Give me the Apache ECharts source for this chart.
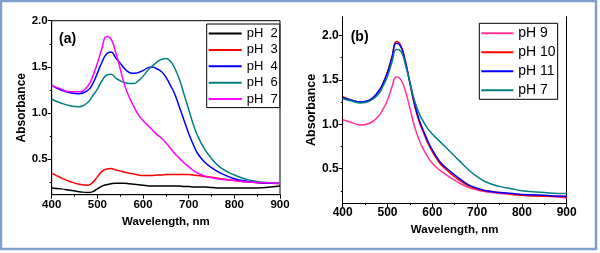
<!DOCTYPE html>
<html>
<head>
<meta charset="utf-8">
<script src="https://cdn.jsdelivr.net/npm/echarts@6/dist/echarts.min.js"></script>
<style>
  html, body { margin: 0; padding: 0; background: #fff; }
  #chart { width: 600px; height: 253px; }
</style>
</head>
<body>
<div id="chart"></div>
<script>
// panel (a) wavelengths, nm
const waveA = [400, 420, 440, 460, 480, 490, 500, 510, 520, 530, 540, 550, 560, 570, 580, 590, 600, 610, 620, 630, 640, 650, 660, 670, 680, 690, 700, 710, 720, 735, 750, 770, 800, 830, 850, 880, 900]
const ph2 = [0.19, 0.18, 0.165, 0.15, 0.14, 0.15, 0.18, 0.21, 0.225, 0.235, 0.24, 0.24, 0.24, 0.235, 0.23, 0.225, 0.22, 0.215, 0.21, 0.21, 0.21, 0.21, 0.21, 0.21, 0.21, 0.205, 0.205, 0.2, 0.2, 0.2, 0.195, 0.19, 0.19, 0.19, 0.19, 0.2, 0.21]
const ph3 = [0.35, 0.3, 0.26, 0.23, 0.22, 0.25, 0.31, 0.37, 0.395, 0.4, 0.385, 0.375, 0.36, 0.35, 0.34, 0.33, 0.325, 0.325, 0.325, 0.33, 0.33, 0.335, 0.335, 0.335, 0.335, 0.335, 0.335, 0.33, 0.325, 0.315, 0.305, 0.29, 0.27, 0.255, 0.245, 0.24, 0.235]
const ph4 = [1.3, 1.25, 1.22, 1.21, 1.25, 1.32, 1.43, 1.55, 1.64, 1.66, 1.6, 1.54, 1.48, 1.44, 1.43, 1.44, 1.46, 1.49, 1.5, 1.48, 1.45, 1.39, 1.3, 1.2, 1.06, 0.92, 0.78, 0.66, 0.56, 0.47, 0.41, 0.35, 0.29, 0.26, 0.25, 0.24, 0.24]
const ph6 = [1.15, 1.11, 1.08, 1.07, 1.12, 1.19, 1.26, 1.35, 1.41, 1.42, 1.38, 1.35, 1.33, 1.32, 1.32, 1.35, 1.4, 1.46, 1.51, 1.55, 1.58, 1.59, 1.56, 1.48, 1.36, 1.2, 1.04, 0.88, 0.75, 0.61, 0.51, 0.41, 0.33, 0.28, 0.26, 0.245, 0.24]
const ph7a = [1.3, 1.26, 1.23, 1.23, 1.3, 1.4, 1.54, 1.7, 1.83, 1.8, 1.66, 1.48, 1.3, 1.17, 1.07, 0.98, 0.92, 0.87, 0.82, 0.77, 0.73, 0.68, 0.62, 0.56, 0.51, 0.46, 0.42, 0.38, 0.35, 0.32, 0.3, 0.285, 0.27, 0.255, 0.25, 0.245, 0.24]

// panel (b) wavelengths, nm
const waveB = [400, 420, 440, 460, 480, 490, 500, 510, 520, 530, 540, 550, 560, 570, 580, 590, 600, 610, 620, 640, 660, 680, 700, 720, 750, 780, 800, 850, 880, 900]
const ph9 = [1.05, 1.02, 0.99, 1.01, 1.09, 1.17, 1.27, 1.42, 1.53, 1.5, 1.37, 1.18, 0.98, 0.83, 0.72, 0.63, 0.56, 0.51, 0.47, 0.4, 0.34, 0.29, 0.26, 0.24, 0.22, 0.21, 0.2, 0.19, 0.18, 0.17]
const ph10 = [1.31, 1.27, 1.25, 1.27, 1.37, 1.46, 1.59, 1.76, 1.93, 1.88, 1.7, 1.46, 1.22, 1.04, 0.91, 0.79, 0.69, 0.61, 0.54, 0.45, 0.37, 0.31, 0.27, 0.25, 0.23, 0.21, 0.2, 0.19, 0.19, 0.18]
const ph11 = [1.3, 1.27, 1.25, 1.27, 1.37, 1.46, 1.58, 1.75, 1.91, 1.87, 1.7, 1.47, 1.24, 1.06, 0.93, 0.81, 0.71, 0.63, 0.56, 0.47, 0.39, 0.32, 0.28, 0.25, 0.23, 0.22, 0.21, 0.2, 0.19, 0.19]
const ph7b = [1.29, 1.26, 1.24, 1.26, 1.34, 1.43, 1.54, 1.7, 1.84, 1.82, 1.67, 1.47, 1.27, 1.13, 1.03, 0.95, 0.89, 0.84, 0.79, 0.69, 0.59, 0.49, 0.41, 0.35, 0.3, 0.27, 0.25, 0.23, 0.22, 0.22]

const yTicks = [0.5, 1.0, 1.5, 2.0]
const yMinorTicks = [0.25, 0.75, 1.25, 1.75]

const font = 'Liberation Sans, Arial, sans-serif'
const pair = (xs, ys) => xs.map((x, i) => [x, ys[i]])

function xAxis (gridIndex, size, gap) {
  return {
    type: 'value', gridIndex, min: 400, max: 900, interval: 100,
    name: 'Wavelength, nm', nameLocation: 'middle', nameGap: gap,
    nameTextStyle: { fontFamily: font, fontWeight: 'bold', fontSize: 11.5, color: '#000' },
    axisLine: { lineStyle: { color: '#000', width: 1 } },
    axisTick: { length: 4, lineStyle: { color: '#000' } },
    minorTick: { show: true, splitNumber: 2, length: 2, lineStyle: { color: '#000' } },
    axisLabel: { fontFamily: font, fontWeight: 'bold', fontSize: size, color: '#000', margin: 4 },
    splitLine: { show: false }
  }
}

function yAxis (gridIndex, min, max, size, nameSize, gap) {
  return {
    type: 'value', gridIndex, min, max,
    name: 'Absorbance', nameLocation: 'middle', nameGap: gap, nameRotate: 90,
    nameTextStyle: { fontFamily: font, fontWeight: 'bold', fontSize: nameSize, color: '#000' },
    axisLine: { show: true, lineStyle: { color: '#000', width: 1 } },
    axisTick: { show: true, length: 4, customValues: yTicks, lineStyle: { color: '#000' } },
    axisLabel: { customValues: yTicks, formatter: v => v.toFixed(1), fontFamily: font, fontWeight: 'bold', fontSize: size, color: '#000', margin: 4 },
    splitLine: { show: false }
  }
}

// extra axis only for the short minor ticks
function yMinor (gridIndex, min, max) {
  return {
    type: 'value', gridIndex, min, max, position: 'left',
    axisLine: { show: false },
    axisTick: { show: true, length: 2, customValues: yMinorTicks, lineStyle: { color: '#000' } },
    axisLabel: { show: false },
    splitLine: { show: false }
  }
}

function line (name, xs, ys, color, xi, yi) {
  return {
    name, type: 'line', xAxisIndex: xi, yAxisIndex: yi,
    data: pair(xs, ys), smooth: true, showSymbol: false,
    lineStyle: { color, width: 1.5 }, itemStyle: { color }
  }
}

const chart = echarts.init(document.getElementById('chart'))
chart.setOption({
  backgroundColor: '#fff',
  animation: false,
  grid: [
    { left: 51.7, top: 20.7, width: 228.3, height: 174, show: true, borderColor: '#000', borderWidth: 1 },
    { left: 342.7, top: 16.7, width: 224, height: 186.3 }
  ],
  xAxis: [xAxis(0, 11.5, 20), xAxis(1, 12, 14)],
  yAxis: [
    yAxis(0, 0.117, 2.0, 11.5, 12, 23),
    yAxis(1, 0.113, 2.21, 12, 12.5, 25),
    yMinor(0, 0.117, 2.0),
    yMinor(1, 0.113, 2.21),
    { type: 'value', gridIndex: 1, min: 0.113, max: 2.21, position: 'right', axisLine: { show: true, lineStyle: { color: '#000' } }, axisTick: { show: false }, axisLabel: { show: false }, splitLine: { show: false } }
  ],
  legend: [
    {
      left: 206.7, top: 24, orient: 'vertical', padding: [3, 2, 2, 2], itemGap: 3.4,
      itemWidth: 33, itemHeight: 2, icon: 'rect',
      backgroundColor: '#fff', borderColor: '#000', borderWidth: 1, borderRadius: 0,
      textStyle: { fontFamily: font, fontSize: 13, color: '#000' },
      data: ['pH  2', 'pH  3', 'pH  4', 'pH  6', 'pH  7']
    },
    {
      left: 479.3, top: 23.3, orient: 'vertical', padding: [3, 2, 2, 2], itemGap: 5,
      itemWidth: 32, itemHeight: 2, icon: 'rect',
      backgroundColor: '#fff', borderColor: '#000', borderWidth: 1, borderRadius: 0,
      textStyle: { fontFamily: font, fontSize: 14, color: '#000' },
      data: ['pH 9', 'pH 10', 'pH 11', 'pH 7']
    }
  ],
  graphic: [
    { type: 'rect', shape: { x: 1, y: 1, width: 595, height: 248 }, style: { fill: 'none', stroke: '#7f9fd2', lineWidth: 2.5 } },
    { type: 'text', left: 59, top: 32, style: { text: '(a)', font: 'bold 14px ' + font, fill: '#000' } },
    { type: 'text', left: 350.7, top: 30, style: { text: '(b)', font: 'bold 14px ' + font, fill: '#000' } }
  ],
  series: [
    line('pH  2', waveA, ph2, '#000000', 0, 0),
    line('pH  3', waveA, ph3, '#ff0000', 0, 0),
    line('pH  4', waveA, ph4, '#0000ff', 0, 0),
    line('pH  6', waveA, ph6, '#008080', 0, 0),
    line('pH  7', waveA, ph7a, '#ff00ff', 0, 0),
    line('pH 9', waveB, ph9, '#ff3399', 1, 1),
    line('pH 10', waveB, ph10, '#ff0000', 1, 1),
    line('pH 11', waveB, ph11, '#0000ff', 1, 1),
    line('pH 7', waveB, ph7b, '#008080', 1, 1)
  ]
})
</script>
</body>
</html>
